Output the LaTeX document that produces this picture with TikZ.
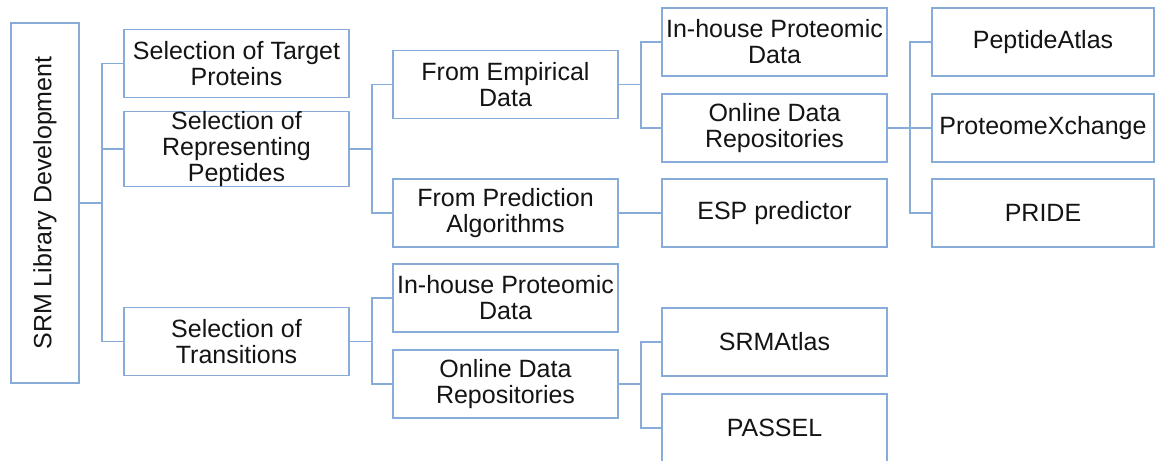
\documentclass[tikz,border=0pt]{standalone}
\usepackage{fontspec}
\setmainfont{Liberation Sans}
\definecolor{edgeblue}{RGB}{135,172,218}
\definecolor{ink}{RGB}{20,20,20}
\begin{document}
\begin{tikzpicture}[x=1pt,y=-1pt,
  box/.style={draw=edgeblue, line width=1.5pt, fill=white, inner sep=0pt,
    minimum width=225pt, minimum height=68pt, align=center, text=ink,
    font=\fontsize{25}{26}\selectfont},
  wide/.style={box, minimum width=222pt},
  link/.style={draw=edgeblue, line width=1.5pt}]
\useasboundingbox (0,0) rectangle (1155,460);
\clip (0,0) rectangle (1155,460);

% root
\node[box, minimum width=68pt, minimum height=360pt] (root) at (45,203) {};
\node[rotate=90, text=ink, font=\fontsize{25}{26}\selectfont] (rootlabel) at (root.center) {SRM Library Development};

% first level
\node[box] (target) at (236.5,63.5) {Selection of Target\\Proteins};
\node[box] (peptides) at (236.5,149) {Selection of\\Representing\\Peptides};
\node[box] (transitions) at (236.5,341.5) {Selection of\\Transitions};

% second level
\node[box] (empirical) at (505.5,84.5) {From Empirical\\Data};
\node[box] (prediction) at (505.5,213) {From Prediction\\Algorithms};
\node[box] (inhouseB) at (505.5,298) {In-house Proteomic\\Data};
\node[box] (onlineB) at (505.5,384) {Online Data\\Repositories};

% third level
\node[box] (inhouseA) at (774.5,42) {In-house Proteomic\\Data};
\node[box] (onlineA) at (774.5,128) {Online Data\\Repositories};
\node[box] (esp) at (774.5,213) {ESP predictor};
\node[box] (srmatlas) at (774.5,342) {SRMAtlas};
\node[box] (passel) at (774.5,428) {PASSEL};

% fourth level
\node[wide] (peptideatlas) at (1043,42) {PeptideAtlas};
\node[wide] (pxchange) at (1043,128) {ProteomeXchange};
\node[wide] (pride) at (1043,213) {PRIDE};

% elbow connectors
\foreach \p/\c in {root/target, root/peptides, root/transitions,
                   peptides/empirical, peptides/prediction,
                   transitions/inhouseB, transitions/onlineB,
                   empirical/inhouseA, empirical/onlineA,
                   prediction/esp,
                   onlineB/srmatlas, onlineB/passel,
                   onlineA/peptideatlas, onlineA/pxchange, onlineA/pride}
  \draw[link] (\p.east) -- ++(22,0) |- (\c.west);
\end{tikzpicture}
\end{document}
